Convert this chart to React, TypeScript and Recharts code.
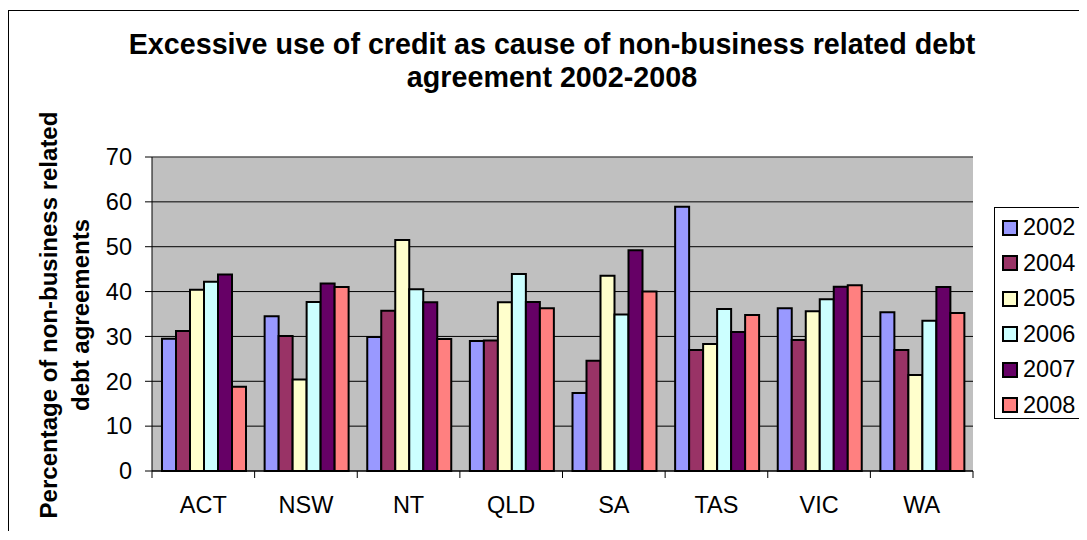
import React from "react";
import { Bar, BarChart, CartesianGrid, Legend, ReferenceLine, XAxis, YAxis } from "recharts";

const regions = ["ACT", "NSW", "NT", "QLD", "SA", "TAS", "VIC", "WA"];
const y2002 = [29.5, 34.5, 29.9, 29.0, 17.4, 58.9, 36.3, 35.4];
const y2004 = [31.2, 30.1, 35.7, 29.1, 24.6, 27.0, 29.2, 27.0];
const y2005 = [40.4, 20.4, 51.5, 37.6, 43.5, 28.3, 35.6, 21.4];
const y2006 = [42.2, 37.7, 40.5, 43.9, 34.9, 36.1, 38.3, 33.5];
const y2007 = [43.8, 41.8, 37.6, 37.7, 49.2, 31.0, 41.1, 41.0];
const y2008 = [18.8, 41.0, 29.4, 36.3, 40.0, 34.8, 41.4, 35.2];
const yTicks = [0, 10, 20, 30, 40, 50, 60, 70];

const series = [
  { key: "2002", values: y2002, color: "#9999FF" },
  { key: "2004", values: y2004, color: "#993366" },
  { key: "2005", values: y2005, color: "#FFFFCC" },
  { key: "2006", values: y2006, color: "#CCFFFF" },
  { key: "2007", values: y2007, color: "#660066" },
  { key: "2008", values: y2008, color: "#FF8080" },
];

const data = regions.map((name, i) => {
  const row: Record<string, string | number> = { name };
  series.forEach((s) => (row[s.key] = s.values[i]));
  return row;
});

const FONT = '"Liberation Sans", Arial, sans-serif';

function RegionTick(props: any) {
  const { x, y, payload, index, visibleTicksCount } = props;
  const half = payload?.offset ?? 51;
  const last = index === visibleTicksCount - 1;
  return (
    <g>
      <line x1={x - half} x2={x - half} y1={y} y2={y + 7} stroke="#000" />
      {last && <line x1={x + half} x2={x + half} y1={y} y2={y + 7} stroke="#000" />}
      <text x={x} y={y + 42} textAnchor="middle" fontSize={23.5} fontFamily={FONT} fill="#000">
        {payload.value}
      </text>
    </g>
  );
}

function LegendBox(props: any) {
  const items = props.payload || [];
  return (
    <div style={{ border: "1px solid #000", background: "#fff", width: 100, height: 212, paddingTop: 2, boxSizing: "border-box", fontFamily: FONT }}>
      {items.map((it: any) => (
        <div key={it.value} style={{ height: 35.5, display: "flex", alignItems: "center", paddingLeft: 7 }}>
          <span style={{ width: 12, height: 12, border: "2px solid #000", background: it.color, display: "inline-block" }} />
          <span style={{ fontSize: 23.5, marginLeft: 5, color: "#000", lineHeight: 1 }}>{it.value}</span>
        </div>
      ))}
    </div>
  );
}

export default function App() {
  return (
    <div style={{ position: "relative", top: 2, width: 1070, height: 522, borderTop: "1px solid #000", borderLeft: "1px solid #000", overflow: "hidden", background: "#fff" }}>
      <svg width={1070} height={522} style={{ position: "absolute", left: 0, top: 0 }}>
        <g fontFamily={FONT} fontWeight="bold" fill="#000">
          <text x={543} y={43} textAnchor="middle" fontSize={28.7}>Excessive use of credit as cause of non-business related debt</text>
          <text x={543} y={76} textAnchor="middle" fontSize={28.7}>agreement 2002-2008</text>
          <text transform="translate(48,304) rotate(-90)" textAnchor="middle" fontSize={24}>Percentage of non-business related</text>
          <text transform="translate(80,304) rotate(-90)" textAnchor="middle" fontSize={24}>debt agreements</text>
        </g>
      </svg>
      <div style={{ position: "absolute", left: 0, top: 0 }}>
        <BarChart width={1070} height={520} data={data} margin={{ top: 146, right: 106, bottom: 0, left: 83 }} barCategoryGap={10} barGap={0}>
          <CartesianGrid fill="#C0C0C0" stroke="#000" vertical={false} />
          <XAxis dataKey="name" height={60} axisLine={{ stroke: "#000" }} tickLine={false} tickSize={0} tickMargin={0} tick={<RegionTick />} interval={0} />
          <YAxis domain={[0, 70]} ticks={yTicks} width={60} tickSize={7} tickMargin={13} axisLine={{ stroke: "#000" }} tickLine={{ stroke: "#000" }} tick={{ fill: "#000", fontSize: 23.5, fontFamily: FONT }} />
          <YAxis yAxisId="right" orientation="right" domain={[0, 70]} width={0} tick={false} tickLine={false} axisLine={{ stroke: "#808080" }} />
          <ReferenceLine y={70} stroke="#808080" />
          <Legend verticalAlign="middle" align="center" layout="horizontal" content={<LegendBox />} wrapperStyle={{ position: "absolute", left: 985, top: 196, width: 100, height: 212 }} />
          {series.map((s) => (
            <Bar key={s.key} dataKey={s.key} fill={s.color} stroke="#000" strokeWidth={2} isAnimationActive={false} />
          ))}
        </BarChart>
      </div>
    </div>
  );
}
